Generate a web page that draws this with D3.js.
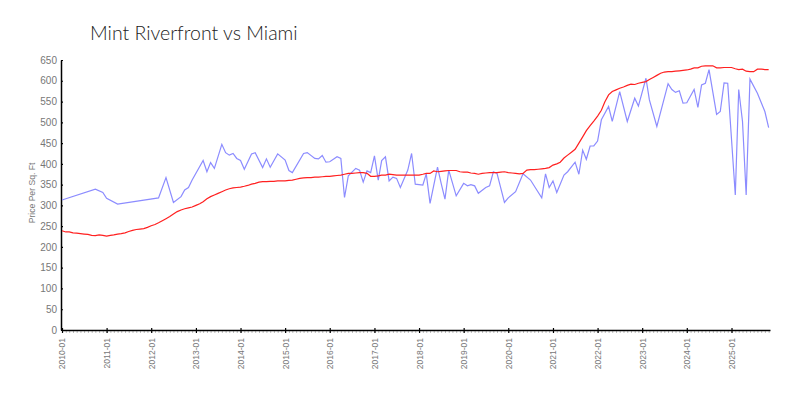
<!DOCTYPE html>
<html>
<head>
<meta charset="utf-8">
<script src="https://cdn.jsdelivr.net/npm/d3@7"></script>
<style>
  html, body { margin: 0; padding: 0; background: #fff; }
  svg { display: block; }
  text { font-family: "Liberation Sans", Arial, sans-serif; }
</style>
</head>
<body>
<svg id="chart" width="800" height="400"></svg>
<script>
const chartTitle = "Mint Riverfront vs Miami";
const yLabel = "Price Per Sq. Ft";

// Mint Riverfront (blue) – observed points
const mintDates = ["2010-01","2010-10","2010-12","2011-01","2011-04","2012-03","2012-05","2012-07","2012-09","2012-10","2012-11","2012-12",
  "2013-03","2013-04","2013-05","2013-06","2013-08","2013-09","2013-10","2013-11","2013-12","2014-01","2014-02","2014-04","2014-05",
  "2014-07","2014-08","2014-09","2014-11","2015-01","2015-02","2015-03","2015-06","2015-07","2015-09","2015-10","2015-11","2015-12",
  "2016-01","2016-03","2016-04","2016-05","2016-06","2016-08","2016-09","2016-10","2016-11","2016-12","2017-01","2017-02","2017-03",
  "2017-04","2017-05","2017-06","2017-07","2017-08","2017-10","2017-11","2017-12","2018-02","2018-03","2018-04","2018-06","2018-07",
  "2018-08","2018-09","2018-11","2019-01","2019-02","2019-03","2019-04","2019-05","2019-07","2019-08","2019-09","2019-10","2019-12",
  "2020-01","2020-03","2020-05","2020-07","2020-10","2020-11","2020-12","2021-01","2021-02","2021-04","2021-05","2021-07","2021-08",
  "2021-09","2021-10","2021-11","2021-12","2022-01","2022-02","2022-04","2022-05","2022-07","2022-09","2022-11","2022-12","2023-02",
  "2023-03","2023-05","2023-08","2023-09","2023-10","2023-11","2023-12","2024-01","2024-03","2024-04","2024-05","2024-06","2024-07",
  "2024-09","2024-10","2024-11","2024-12","2025-02","2025-03","2025-04","2025-05","2025-06","2025-08","2025-10","2025-11"];
const mintValues = [313,339,331,317,303,318,367,307,321,337,343,361,
  408,381,403,389,447,427,421,425,413,408,387,424,427,
  391,412,392,424,409,384,379,425,427,413,412,420,404,
  405,417,413,319,371,389,385,356,383,379,419,361,408,
  417,359,368,365,343,385,425,351,349,376,305,392,353,
  315,385,323,353,347,350,347,329,343,347,381,377,307,
  318,333,376,361,318,376,343,359,331,373,381,404,375,
  433,411,443,443,455,506,538,502,574,502,558,539,606,
  554,490,593,579,572,576,546,547,579,536,590,594,627,
  519,526,595,594,325,579,502,325,604,570,526,487];

// Miami (red) – monthly
const miamiStart = "2010-01";
const miamiValues = [239,236,236,234,233,232,231,230,228,227,229,228,
  226,228,229,231,232,234,237,240,242,243,244,247,
  251,254,258,263,268,273,279,285,289,292,294,296,
  300,304,309,316,321,325,329,333,337,340,342,343,
  344,346,348,351,353,356,357,357,358,358,359,359,
  359,360,361,363,365,366,367,367,368,368,369,370,
  370,371,372,373,375,377,377,378,379,379,377,370,
  370,371,373,373,375,374,373,373,373,373,373,373,
  373,375,377,377,383,381,382,383,384,384,384,381,
  380,380,378,377,375,377,378,379,379,379,380,381,
  379,378,377,376,377,385,386,386,387,388,389,391,
  397,400,404,414,421,428,435,450,465,480,492,503,
  515,529,549,566,574,578,582,585,589,592,591,594,
  596,598,603,608,613,618,621,622,622,623,624,625,
  626,628,631,631,635,636,636,636,631,631,632,632,
  632,629,627,628,623,622,622,628,628,627,627];

const yTicks = [0,50,100,150,200,250,300,350,400,450,500,550,600,650];
const xDomain = ["2010-01-01","2025-11-12"];

const parseM = d3.timeParse("%Y-%m");
const parseD = d3.timeParse("%Y-%m-%d");

const mint = mintDates.map((d,i)=>({date: parseM(d), value: mintValues[i]}));
const m0 = parseM(miamiStart);
const miami = miamiValues.map((v,i)=>({date: d3.timeMonth.offset(m0, i), value: v}));

const svg = d3.select("#chart");
const margin = {left: 62, right: 30, top: 60, bottom: 70};
const W = 800, H = 400;

const x = d3.scaleTime().domain(xDomain.map(parseD)).range([margin.left, W - margin.right]);
const y = d3.scaleLinear().domain([0, 650]).range([H - margin.bottom, margin.top]);

// title
svg.append("text")
  .attr("x", 90).attr("y", 40)
  .attr("font-size", 19.5)
  .attr("fill", "#222")
  .style("font-family", "Lato, 'Liberation Sans', sans-serif")
  .style("font-weight", 300)
  .text(chartTitle);

// monthly minor ticks
const gMinor = svg.append("g")
  .attr("transform", `translate(0,${y(0)})`)
  .call(d3.axisBottom(x).ticks(d3.timeMonth.every(1)).tickSize(3).tickFormat(""));
gMinor.select(".domain").remove();
gMinor.selectAll(".tick line").attr("stroke", "#bbb");

// x axis (years)
const gx = svg.append("g")
  .attr("transform", `translate(0,${y(0)})`)
  .call(d3.axisBottom(x).ticks(d3.timeYear.every(1)).tickFormat(d3.timeFormat("%Y-%m")).tickSize(3).tickSizeOuter(0));
gx.select(".domain").attr("stroke", "#000").attr("stroke-width", 1.5);
gx.selectAll(".tick line").attr("stroke", "#000").attr("y1", -2).attr("stroke-width", 1.2);
gx.selectAll(".tick text")
  .attr("fill", "#777")
  .attr("font-size", 8.5)
  .attr("transform", "rotate(-90)")
  .attr("text-anchor", "end")
  .attr("x", -8).attr("y", 0).attr("dy", "0.35em");

// y axis
const gy = svg.append("g")
  .attr("transform", `translate(${margin.left - 1},0)`)
  .call(d3.axisLeft(y).tickValues(yTicks).tickSize(2).tickSizeOuter(0));
gy.select(".domain").attr("stroke", "#000").attr("stroke-width", 1.5);
gy.selectAll(".tick line").attr("stroke", "#000").attr("x2", 2).attr("stroke-width", 1.2);
gy.selectAll(".tick text").attr("fill", "#777").attr("font-size", 10).attr("x", -4);

// y label
svg.append("text")
  .attr("transform", `translate(35,${(y(0)+y(650))/2 - 2}) rotate(-90)`)
  .attr("text-anchor", "middle")
  .attr("font-size", 8.6)
  .attr("fill", "#777")
  .text(yLabel);

const line = d3.line().x(d=>x(d.date)).y(d=>y(d.value));

svg.append("path").datum(mint)
  .attr("fill", "none").attr("stroke", "#8c8cff").attr("stroke-width", 1.2)
  .attr("d", line);

svg.append("path").datum(miami)
  .attr("fill", "none").attr("stroke", "#ff2020").attr("stroke-width", 1.2)
  .attr("d", line);
</script>
</body>
</html>
